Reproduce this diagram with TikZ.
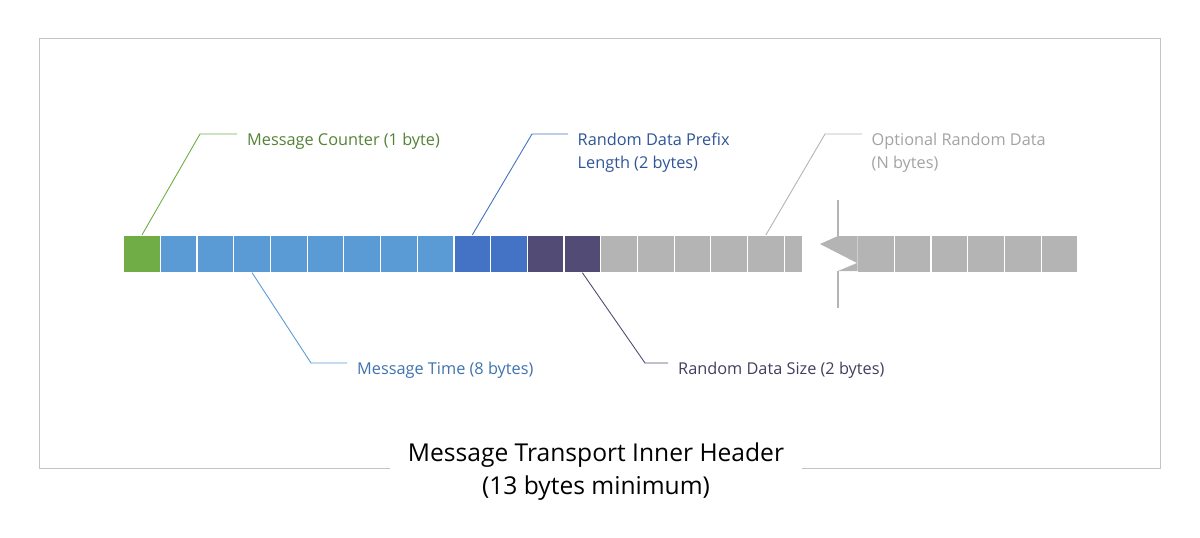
\documentclass[tikz,border=0pt]{standalone}
\usepackage{fontspec}
\setmainfont{Open Sans}
\usetikzlibrary{positioning}
\definecolor{cntgreen}{HTML}{70AD47}
\definecolor{cnttext}{HTML}{548235}
\definecolor{timeblue}{HTML}{5B9BD5}
\definecolor{timetext}{HTML}{3F72AE}
\definecolor{lenblue}{HTML}{4472C4}
\definecolor{lentext}{HTML}{2F5597}
\definecolor{sizepurple}{HTML}{524B75}
\definecolor{sizetext}{HTML}{423E5E}
\definecolor{optgray}{HTML}{B4B4B4}
\definecolor{opttext}{HTML}{A3A3A3}
\definecolor{framegray}{HTML}{C4C4C4}
\tikzset{cell/.style={rectangle,draw=white,line width=1.2pt,minimum width=36.7pt,minimum height=36.5pt,inner sep=0pt,anchor=north west}}
\tikzset{lbl/.style={font=\fontsize{16.3}{23}\selectfont,inner sep=0pt,align=left}}
\tikzset{lead/.style={line width=0.9pt}}

\begin{document}
\begin{tikzpicture}[x=1pt,y=-1pt]
\useasboundingbox (0,0) rectangle (1200,538);

% frame
\draw[framegray,line width=1pt] (39,38) rectangle (1160,468);

% bytes
\node[cell,fill=cntgreen] (c0) at (123,235) {};
\foreach \i in {1,...,8}
  \node[cell,fill=timeblue] (c\i) at ({123+36.7*\i},235) {};
\foreach \i in {9,10}
  \node[cell,fill=lenblue] (c\i) at ({123+36.7*\i},235) {};
\foreach \i in {11,12}
  \node[cell,fill=sizepurple] (c\i) at ({123+36.7*\i},235) {};
\foreach \i in {13,...,17}
  \node[cell,fill=optgray] (c\i) at ({123+36.7*\i},235) {};
\node[cell,fill=optgray,minimum width=18.5pt] (c18) at (783.6,235) {};
\foreach \i in {1,...,6}
  \node[cell,fill=optgray] (r\i) at ({857+36.7*(\i-1)},235) {};

% break
\fill[optgray] (838,236) -- (857.5,236) -- (857.5,271) -- (838,271) -- (857,263) -- (820,244) -- cycle;
\draw[optgray,line width=1.3pt] (838,200) -- (838,236.5);
\draw[optgray,line width=1.3pt] (838,270.5) -- (838,308);

% leaders
\coordinate (mcB) at (200,134);
\coordinate (mcE) at (237,134);
\coordinate (rdB) at (532,134);
\coordinate (rdE) at (568,134);
\coordinate (opB) at (825,134);
\coordinate (opE) at (862,134);
\coordinate (mtB) at (311,363);
\coordinate (mtE) at (347,363);
\coordinate (rsB) at (645,363);
\coordinate (rsE) at (668,363);

\draw[lead,cntgreen] (c0.north) -- (mcB) -- (mcE);
\draw[lead,lenblue] (c9.north) -- (rdB) -- (rdE);
\draw[lead,optgray] (c17.north) -- (opB) -- (opE);
\draw[lead,timeblue] (c3.south) -- (mtB) -- (mtE);
\draw[lead,sizepurple] (c12.south) -- (rsB) -- (rsE);

% labels
\node[lbl,text=cnttext,below right=-1.5pt and 10pt of mcE] (mc) {Message Counter (1 byte)};
\node[lbl,text=lentext,below right=-1.5pt and 9.5pt of rdE] (rd) {Random Data Prefix\\Length (2 bytes)};
\node[lbl,text=opttext,below right=-1.5pt and 9.5pt of opE] (op) {Optional Random Data\\(N bytes)};
\node[lbl,text=timetext,below right=-1.5pt and 10pt of mtE] (mt) {Message Time (8 bytes)};
\node[lbl,text=sizetext,below right=-1.5pt and 10pt of rsE] (rs) {Random Data Size (2 bytes)};

% caption
\node[font=\fontsize{24.6}{32.5}\selectfont,fill=white,align=center,inner xsep=18pt,inner ysep=2pt] (cap) at (596,471.5) {Message Transport Inner Header\\(13 bytes minimum)};

\end{tikzpicture}
\end{document}
